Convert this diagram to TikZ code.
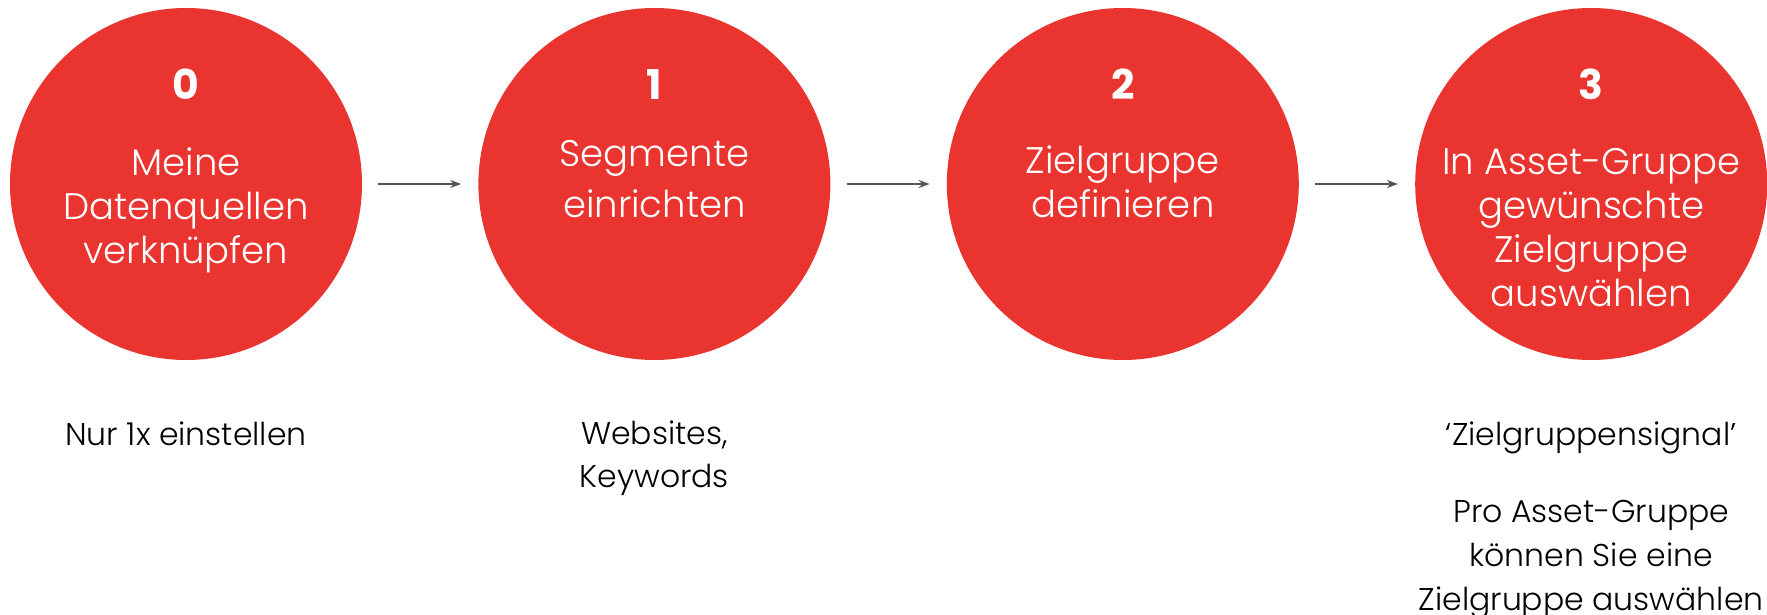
\documentclass[tikz,border=0pt]{standalone}
\usepackage{fontspec}
\setmainfont{Poppins}[UprightFont=* Light, BoldFont=* Bold]
\usepackage{xcolor}
\usetikzlibrary{arrows.meta,positioning}

\definecolor{stepred}{RGB}{233,52,48}
\definecolor{arrowgray}{RGB}{85,85,85}

\begin{document}
\begin{tikzpicture}[
    stepcirc/.style={circle, fill=stepred, minimum size=352pt, inner sep=0pt},
    num/.style={text=white, font=\fontsize{41}{44}\selectfont\bfseries, anchor=base},
    inside/.style={text=white, font=\fontsize{37}{44}\selectfont, align=center, anchor=base},
    below text/.style={text=black, font=\fontsize{31.5}{43}\selectfont, align=center, anchor=base},
    flow/.style={-{Stealth[length=11pt,width=8pt]}, arrowgray, line width=1.8pt, shorten <=16pt, shorten >=17pt}
  ]
  \useasboundingbox (-186pt,184pt) rectangle (1581pt,-431pt);

  \node[stepcirc] (c0) at (0,0) {};
  \node[stepcirc, right=116pt of c0] (c1) {};
  \node[stepcirc, right=116pt of c1] (c2) {};
  \node[stepcirc, right=116pt of c2] (c3) {};

  \draw[flow] (c0) -- (c1);
  \draw[flow] (c1) -- (c2);
  \draw[flow] (c2) -- (c3);

  \node[num] (n0) at ([yshift=84pt]c0.center) {0};
  \node[num] (n1) at ([yshift=84pt]c1.center) {1};
  \node[num] (n2) at ([yshift=84pt]c2.center) {2};
  \node[num] (n3) at ([yshift=84pt]c3.center) {3};

  % base anchor sits on the last line
  \node[inside] (t0) at ([yshift=-80pt]c0.center) {Meine\\Datenquellen\\verknüpfen};
  \node[inside, font=\fontsize{37}{51}\selectfont] (t1) at ([yshift=-34pt]c1.center) {Segmente\\einrichten};
  \node[inside] (t2) at ([yshift=-34pt]c2.center) {Zielgruppe\\definieren};
  \node[inside] (t3) at ([yshift=-123pt]c3.center) {In Asset-Gruppe\\gewünschte\\Zielgruppe\\auswählen};

  \node[below text] (b0) at ([yshift=-261pt]c0.center) {Nur 1x einstellen};
  \node[below text] (b1) at ([yshift=-303pt]c1.center) {Websites,\\Keywords};
  \node[below text] (b3) at ([yshift=-261pt]c3.center) {‘Zielgruppensignal’};
  \node[below text, font=\fontsize{31.5}{44}\selectfont] (b3a) at ([yshift=-426pt]c3.center) {Pro Asset-Gruppe\\können Sie eine\\Zielgruppe auswählen};
\end{tikzpicture}
\end{document}
